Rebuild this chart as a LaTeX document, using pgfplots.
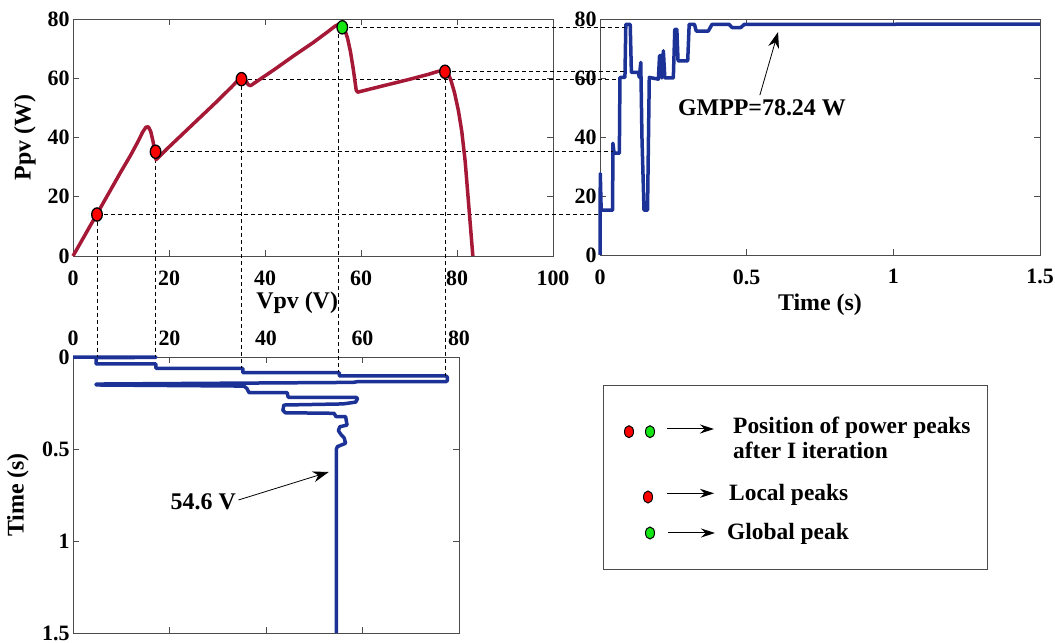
\documentclass[border=0pt]{standalone}
\usepackage{fontspec}
\setmainfont{Liberation Serif}
\usepackage{pgfplots}
\pgfplotsset{compat=1.18}
\usetikzlibrary{arrows.meta}

\definecolor{pvred}{RGB}{165,25,55}
\definecolor{trblue}{RGB}{28,50,150}
\definecolor{mkgreen}{RGB}{20,230,20}

\pgfplotsset{
 myaxis/.style={
  scale only axis,
  anchor=south west,
  axis line style={draw=black!70, line width=0.8bp},
  major tick length=6bp,
  tick style={draw=black!70, line width=0.8bp},
  tick label style={font=\fontsize{22}{22}\selectfont\bfseries},
  label style={font=\fontsize{24}{24}\selectfont\bfseries},
  /pgf/number format/assume math mode=true,
  clip=false,
 },
}
\tikzset{dl/.style={black, line width=0.8bp, dash pattern=on 4bp off 3bp}}

\begin{document}
\begin{tikzpicture}
\useasboundingbox (0,0) rectangle (1055bp,643bp);

% ---------- P vs time ----------
\begin{axis}[myaxis, at={(600bp,388bp)}, width=440bp, height=236bp,
  xmin=0, xmax=1.5, ymin=0, ymax=80,
  xtick={0,0.5,1,1.5}, ytick={0,20,40,60,80},
  xticklabel style={yshift=-11bp},
  xlabel={Time (s)},
  xlabel style={at={(axis description cs:0.5,-0.212)}, anchor=center}]
\addplot[trblue, line width=3.5bp, line join=round] coordinates {
(0,0) (0.001,27.6) (0.004,15.2) (0.043,15.2) (0.044,37.9) (0.048,34.5)
(0.066,34.5) (0.068,60.2) (0.085,60.2) (0.088,78.2) (0.103,78.2)
(0.107,61.9) (0.131,61.9) (0.134,60.2) (0.139,65.3) (0.143,40)
(0.150,15.2) (0.162,15.2) (0.168,60.2) (0.199,59.6) (0.203,67.6)
(0.208,67.6) (0.211,60) (0.216,69.2) (0.221,60) (0.250,60) (0.255,76.5)
(0.262,76.5) (0.266,65.8) (0.299,65.8) (0.304,78.2) (0.322,78.2)
(0.328,75.9) (0.369,75.9) (0.382,78.2) (0.440,78.2) (0.450,77.1)
(0.480,77.1) (0.492,78.2) (1.5,78.24)};
\node[font=\fontsize{24}{24}\selectfont\bfseries] at (axis cs:0.552,49.8) {GMPP=78.24 W};
\draw[black, line width=0.8bp, -{Stealth[length=16bp,width=11bp]}] (axis cs:0.545,54.2) -- (axis cs:0.607,75.6);
\end{axis}

% ---------- V vs time ----------
\begin{axis}[myaxis, at={(73bp,10bp)}, width=386bp, height=276bp,
  xmin=0, xmax=80, ymin=0, ymax=1.5, y dir=reverse,
  xticklabel pos=upper,
  xticklabel style={yshift=8bp},
  xtick={0,20,40,60,80}, ytick={0,0.5,1,1.5},
  ylabel={Time (s)},
  ylabel style={at={(axis description cs:-0.1425,0.5)}, anchor=center}]
\addplot[trblue, line width=3.5bp, line join=round] coordinates {
(0,0) (17.2,0) (17.2,0.002) (4.8,0.004) (4.8,0.038) (17.2,0.038)
(17.2,0.062) (35.2,0.062) (35.2,0.085) (55.2,0.085) (55.2,0.103)
(77.3,0.103) (77.6,0.11) (77.6,0.128) (77.3,0.134) (59,0.134) (58,0.138)
(4.8,0.147) (4.8,0.152) (35.4,0.158) (36,0.17) (36.5,0.194) (44.4,0.194)
(44.6,0.219) (58.6,0.219) (59,0.225) (58.6,0.245) (56,0.255) (43.7,0.261)
(43.5,0.29) (44,0.303) (54.1,0.306) (54.5,0.324) (56.5,0.324) (56.8,0.37)
(55.3,0.379) (55,0.40) (55.5,0.42) (56.2,0.44) (56.5,0.469) (54.8,0.487)
(54.6,0.5) (54.6,1.5)};
\node[font=\fontsize{24}{24}\selectfont\bfseries] at (axis cs:27.0,0.788) {54.6 V};
\draw[black, line width=0.8bp, -{Stealth[length=16bp,width=11bp]}] (axis cs:34.3,0.777) -- (axis cs:53.0,0.625);
\end{axis}

% ---------- P vs V ----------
\begin{axis}[myaxis, at={(73bp,387bp)}, width=480bp, height=237bp,
  xmin=0, xmax=100, ymin=0, ymax=80,
  xtick={0,20,40,60,80,100}, ytick={0,20,40,60,80},
  xticklabel style={yshift=-11bp},
  xlabel={Vpv (V)}, ylabel={Ppv (W)},
  xlabel style={at={(axis description cs:0.467,-0.198)}, anchor=center},
  ylabel style={at={(axis description cs:-0.1,0.5)}, anchor=center}]
% guide lines: to the P(t) trace on the right and to the V(t) trace below
\draw[dl] (axis cs:5,14) -- (axis cs:110.0,14);
\draw[dl] (axis cs:5,14) -- (axis cs:5,-34.1);
\draw[dl] (axis cs:17.2,35.2) -- (axis cs:112.5,35.2);
\draw[dl] (axis cs:17.2,35.2) -- (axis cs:17.2,-34.1);
\draw[dl] (axis cs:35.1,59.7) -- (axis cs:113.6,59.7);
\draw[dl] (axis cs:35.1,59.7) -- (axis cs:35.1,-37.9);
\draw[dl] (axis cs:77.5,62.2) -- (axis cs:115.0,62.2);
\draw[dl] (axis cs:77.5,62.2) -- (axis cs:77.5,-40.5);
\draw[dl] (axis cs:56.1,77.2) -- (axis cs:115.0,77.2);
\draw[dl] (axis cs:55.3,77.2) -- (axis cs:55.3,-39.3);
\addplot[pvred, line width=3.5bp, line join=round] coordinates {
(0,0) (5,14.2) (10,28.5) (12,34) (13.5,38.5) (14.5,41.8) (15.2,43.5)
(15.7,43.6) (16.2,42) (16.7,38.5) (17,35) (17.3,32.5)
(20,36.8) (25,44.5) (30,52.2) (33,57) (34.5,59.5) (35.3,60.3) (35.9,59.6)
(36.5,57.8) (37,57.5) (38,58.6) (42,63) (46,67.6) (50,72) (53,75.6)
(54.6,77.6) (55.5,78.3) (56,78) (56.6,76.5) (57.2,73.5) (57.8,69)
(58.4,63) (59,56) (59.3,55.3) (62,56.4) (66,58) (70,59.6) (74,61.3)
(76,62.3) (77.2,62.6) (78,62) (78.7,59.5) (79.5,55) (80.3,49) (81,42)
(81.7,32) (82.3,20) (82.8,10) (83.3,0)};
\addplot[only marks, mark=*, mark size=5.3bp, mark options={fill=red, draw=black, line width=1.3bp, yscale=1.25}] coordinates {
(5,14) (17.2,35.2) (35.1,59.7) (77.5,62.2)};
\addplot[only marks, mark=*, mark size=5.3bp, mark options={fill=mkgreen, draw=black, line width=1.3bp, yscale=1.25}] coordinates {
(56.1,77.2)};
\end{axis}

% ---------- legend box ----------
\draw[black!70, line width=0.9bp] (603bp,74bp) rectangle (987bp,258bp);
\begin{scope}[every node/.style={font=\fontsize{23.5}{23.5}\selectfont\bfseries, inner sep=0pt, anchor=base west}]
\draw[fill=red, line width=1bp] (629bp,211.3bp) ellipse [x radius=4.5bp, y radius=6bp];
\draw[fill=mkgreen, line width=1bp] (650bp,211.3bp) ellipse [x radius=4.5bp, y radius=6bp];
\draw[line width=1bp, -{Stealth[length=14bp,width=9bp]}] (667bp,214bp) -- (714bp,214bp);
\node at (733bp,209.7bp) {Position of power peaks};
\node at (733bp,184bp) {after I iteration};
\draw[fill=red, line width=1bp] (648bp,146bp) ellipse [x radius=4.5bp, y radius=6bp];
\draw[line width=1bp, -{Stealth[length=14bp,width=9bp]}] (667bp,149.7bp) -- (714bp,149.7bp);
\node at (729bp,142.3bp) {Local peaks};
\draw[fill=mkgreen, line width=1bp] (650bp,110bp) ellipse [x radius=4.5bp, y radius=6bp];
\draw[line width=1bp, -{Stealth[length=14bp,width=9bp]}] (668bp,110bp) -- (715bp,110bp);
\node at (727bp,103bp) {Global peak};
\end{scope}
\end{tikzpicture}
\end{document}
